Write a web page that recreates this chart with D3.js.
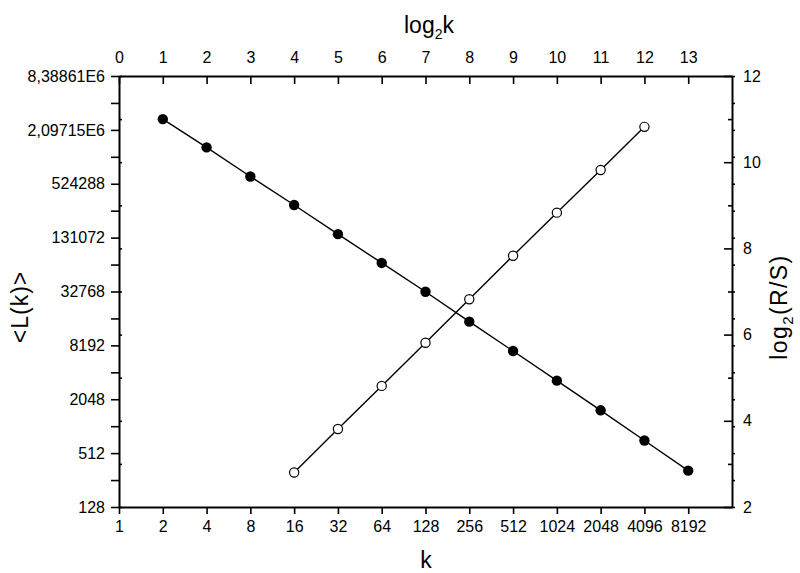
<!DOCTYPE html>
<html>
<head>
<meta charset="utf-8">
<script src="https://cdn.jsdelivr.net/npm/d3@7"></script>
<style>
  html, body { margin: 0; padding: 0; background: #fff; }
  svg { display: block; font-family: "Liberation Sans", Arial, Helvetica, sans-serif; }
</style>
</head>
<body>
<svg id="chart" width="800" height="573"></svg>
<script>
// ---- data ----
const kFilled = [2, 4, 8, 16, 32, 64, 128, 256, 512, 1024, 2048, 4096, 8192];
const lValues = [2767200, 1336500, 632200, 303200, 143400, 68320, 32540, 15077, 7082, 3304, 1541, 709, 326];
const kOpen = [16, 32, 64, 128, 256, 512, 1024, 2048, 4096];
const rsValues = [2.80, 3.81, 4.81, 5.81, 6.82, 7.83, 8.83, 9.82, 10.82];

const bottomTicks = [1, 2, 4, 8, 16, 32, 64, 128, 256, 512, 1024, 2048, 4096, 8192];
const topTicks = [0, 1, 2, 3, 4, 5, 6, 7, 8, 9, 10, 11, 12, 13];
const leftTickValues = [128, 512, 2048, 8192, 32768, 131072, 524288, 2097152, 8388608];
const leftTickLabels = ["128", "512", "2048", "8192", "32768", "131072", "524288", "2,09715E6", "8,38861E6"];
const leftMinorValues = [256, 1024, 4096, 16384, 65536, 262144, 1048576, 4194304];
const rightMajor = [2, 4, 6, 8, 10, 12];
const rightMinor = [3, 5, 7, 9, 11];

// ---- layout ----
const L = 119, R = 732, T = 76, B = 507;
const svg = d3.select("#chart");

const x = d3.scaleLog().base(2).domain([1, 16384]).range([L, R]);
const xTop = d3.scaleLinear().domain([0, 14]).range([L, R]);
const yL = d3.scaleLog().base(2).domain([128, 8388608]).range([B, T]);
const yR = d3.scaleLinear().domain([2, 12]).range([B, T]);

const FS = 16;
function styleAxis(g, keepDomain) {
  g.selectAll("text").attr("font-size", FS).attr("fill", "#000")
    .attr("font-family", '"Liberation Sans", Arial, sans-serif');
  g.selectAll(".tick line").attr("stroke", "#000").attr("stroke-width", 1.6);
  if (keepDomain) g.select(".domain").attr("stroke", "#000").attr("stroke-width", 2);
  else g.select(".domain").remove();
}

// extra small ticks (twin-layer ticks)
const allLeft = leftTickValues.concat(leftMinorValues);
svg.append("g").attr("transform", `translate(${L},0)`)
  .call(d3.axisRight(yR).tickValues(rightMajor.concat(rightMinor)).tickSize(3).tickFormat(""))
  .call(g => styleAxis(g, false));
svg.append("g").attr("transform", `translate(${R},0)`)
  .call(d3.axisRight(yL).tickValues(allLeft).tickSize(3).tickFormat(""))
  .call(g => styleAxis(g, false));

// right minor inward ticks
svg.append("g").attr("transform", `translate(${R},0)`)
  .call(d3.axisRight(yR).tickValues(rightMinor).tickSize(-4).tickFormat(""))
  .call(g => styleAxis(g, false));

// bottom axis
svg.append("g").attr("transform", `translate(0,${B})`)
  .call(d3.axisBottom(x).tickValues(bottomTicks).tickSize(7).tickSizeOuter(0).tickPadding(7)
    .tickFormat(d => String(d)))
  .call(g => styleAxis(g, true));

// top axis
svg.append("g").attr("transform", `translate(0,${T})`)
  .call(d3.axisTop(xTop).tickValues(topTicks).tickSize(-8).tickSizeOuter(0).tickPadding(13)
    .tickFormat(d => String(d)))
  .call(g => styleAxis(g, true));

// left axis
svg.append("g").attr("transform", `translate(${L},0)`)
  .call(d3.axisLeft(yL).tickValues(allLeft).tickSize(8).tickSizeOuter(0).tickPadding(6)
    .tickFormat(d => { const i = leftTickValues.indexOf(d); return i >= 0 ? leftTickLabels[i] : ""; }))
  .call(g => styleAxis(g, true));

// right axis
svg.append("g").attr("transform", `translate(${R},0)`)
  .call(d3.axisRight(yR).tickValues(rightMajor).tickSize(-8).tickSizeOuter(0).tickPadding(11)
    .tickFormat(d => String(d)))
  .call(g => styleAxis(g, true));

// ---- series ----
const filled = kFilled.map((k, i) => ({ k, v: lValues[i] }));
const open = kOpen.map((k, i) => ({ k, v: rsValues[i] }));

svg.append("path").datum(filled)
  .attr("fill", "none").attr("stroke", "#000").attr("stroke-width", 1.4)
  .attr("d", d3.line().x(d => x(d.k)).y(d => yL(d.v)));
svg.append("path").datum(open)
  .attr("fill", "none").attr("stroke", "#000").attr("stroke-width", 1.4)
  .attr("d", d3.line().x(d => x(d.k)).y(d => yR(d.v)));

svg.append("g").selectAll("circle").data(filled).join("circle")
  .attr("cx", d => x(d.k)).attr("cy", d => yL(d.v)).attr("r", 5.2)
  .attr("fill", "#000");
svg.append("g").selectAll("circle").data(open).join("circle")
  .attr("cx", d => x(d.k)).attr("cy", d => yR(d.v)).attr("r", 4.6)
  .attr("fill", "#fff").attr("stroke", "#000").attr("stroke-width", 1.2);

// ---- titles ----
const topTitle = svg.append("text").attr("x", 429).attr("y", 33)
  .attr("text-anchor", "middle").attr("font-size", 23).attr("fill", "#000");
topTitle.append("tspan").text("log");
topTitle.append("tspan").attr("font-size", 14).attr("dy", 6).text("2");
topTitle.append("tspan").attr("dy", -6).text("k");

svg.append("text").attr("x", 426).attr("y", 568)
  .attr("text-anchor", "middle").attr("font-size", 23).attr("fill", "#000").text("k");

svg.append("text").attr("transform", "translate(28,307) rotate(-90)")
  .attr("text-anchor", "middle").attr("font-size", 23).attr("letter-spacing", 1)
  .attr("fill", "#000").text("<L(k)>");

const rt = svg.append("text").attr("transform", "translate(787,307) rotate(-90)")
  .attr("text-anchor", "middle").attr("font-size", 23).attr("letter-spacing", 1.4)
  .attr("fill", "#000");
rt.append("tspan").text("log");
rt.append("tspan").attr("font-size", 15).attr("dy", 6).text("2");
rt.append("tspan").attr("dy", -6).text("(R/S)");
</script>
</body>
</html>
